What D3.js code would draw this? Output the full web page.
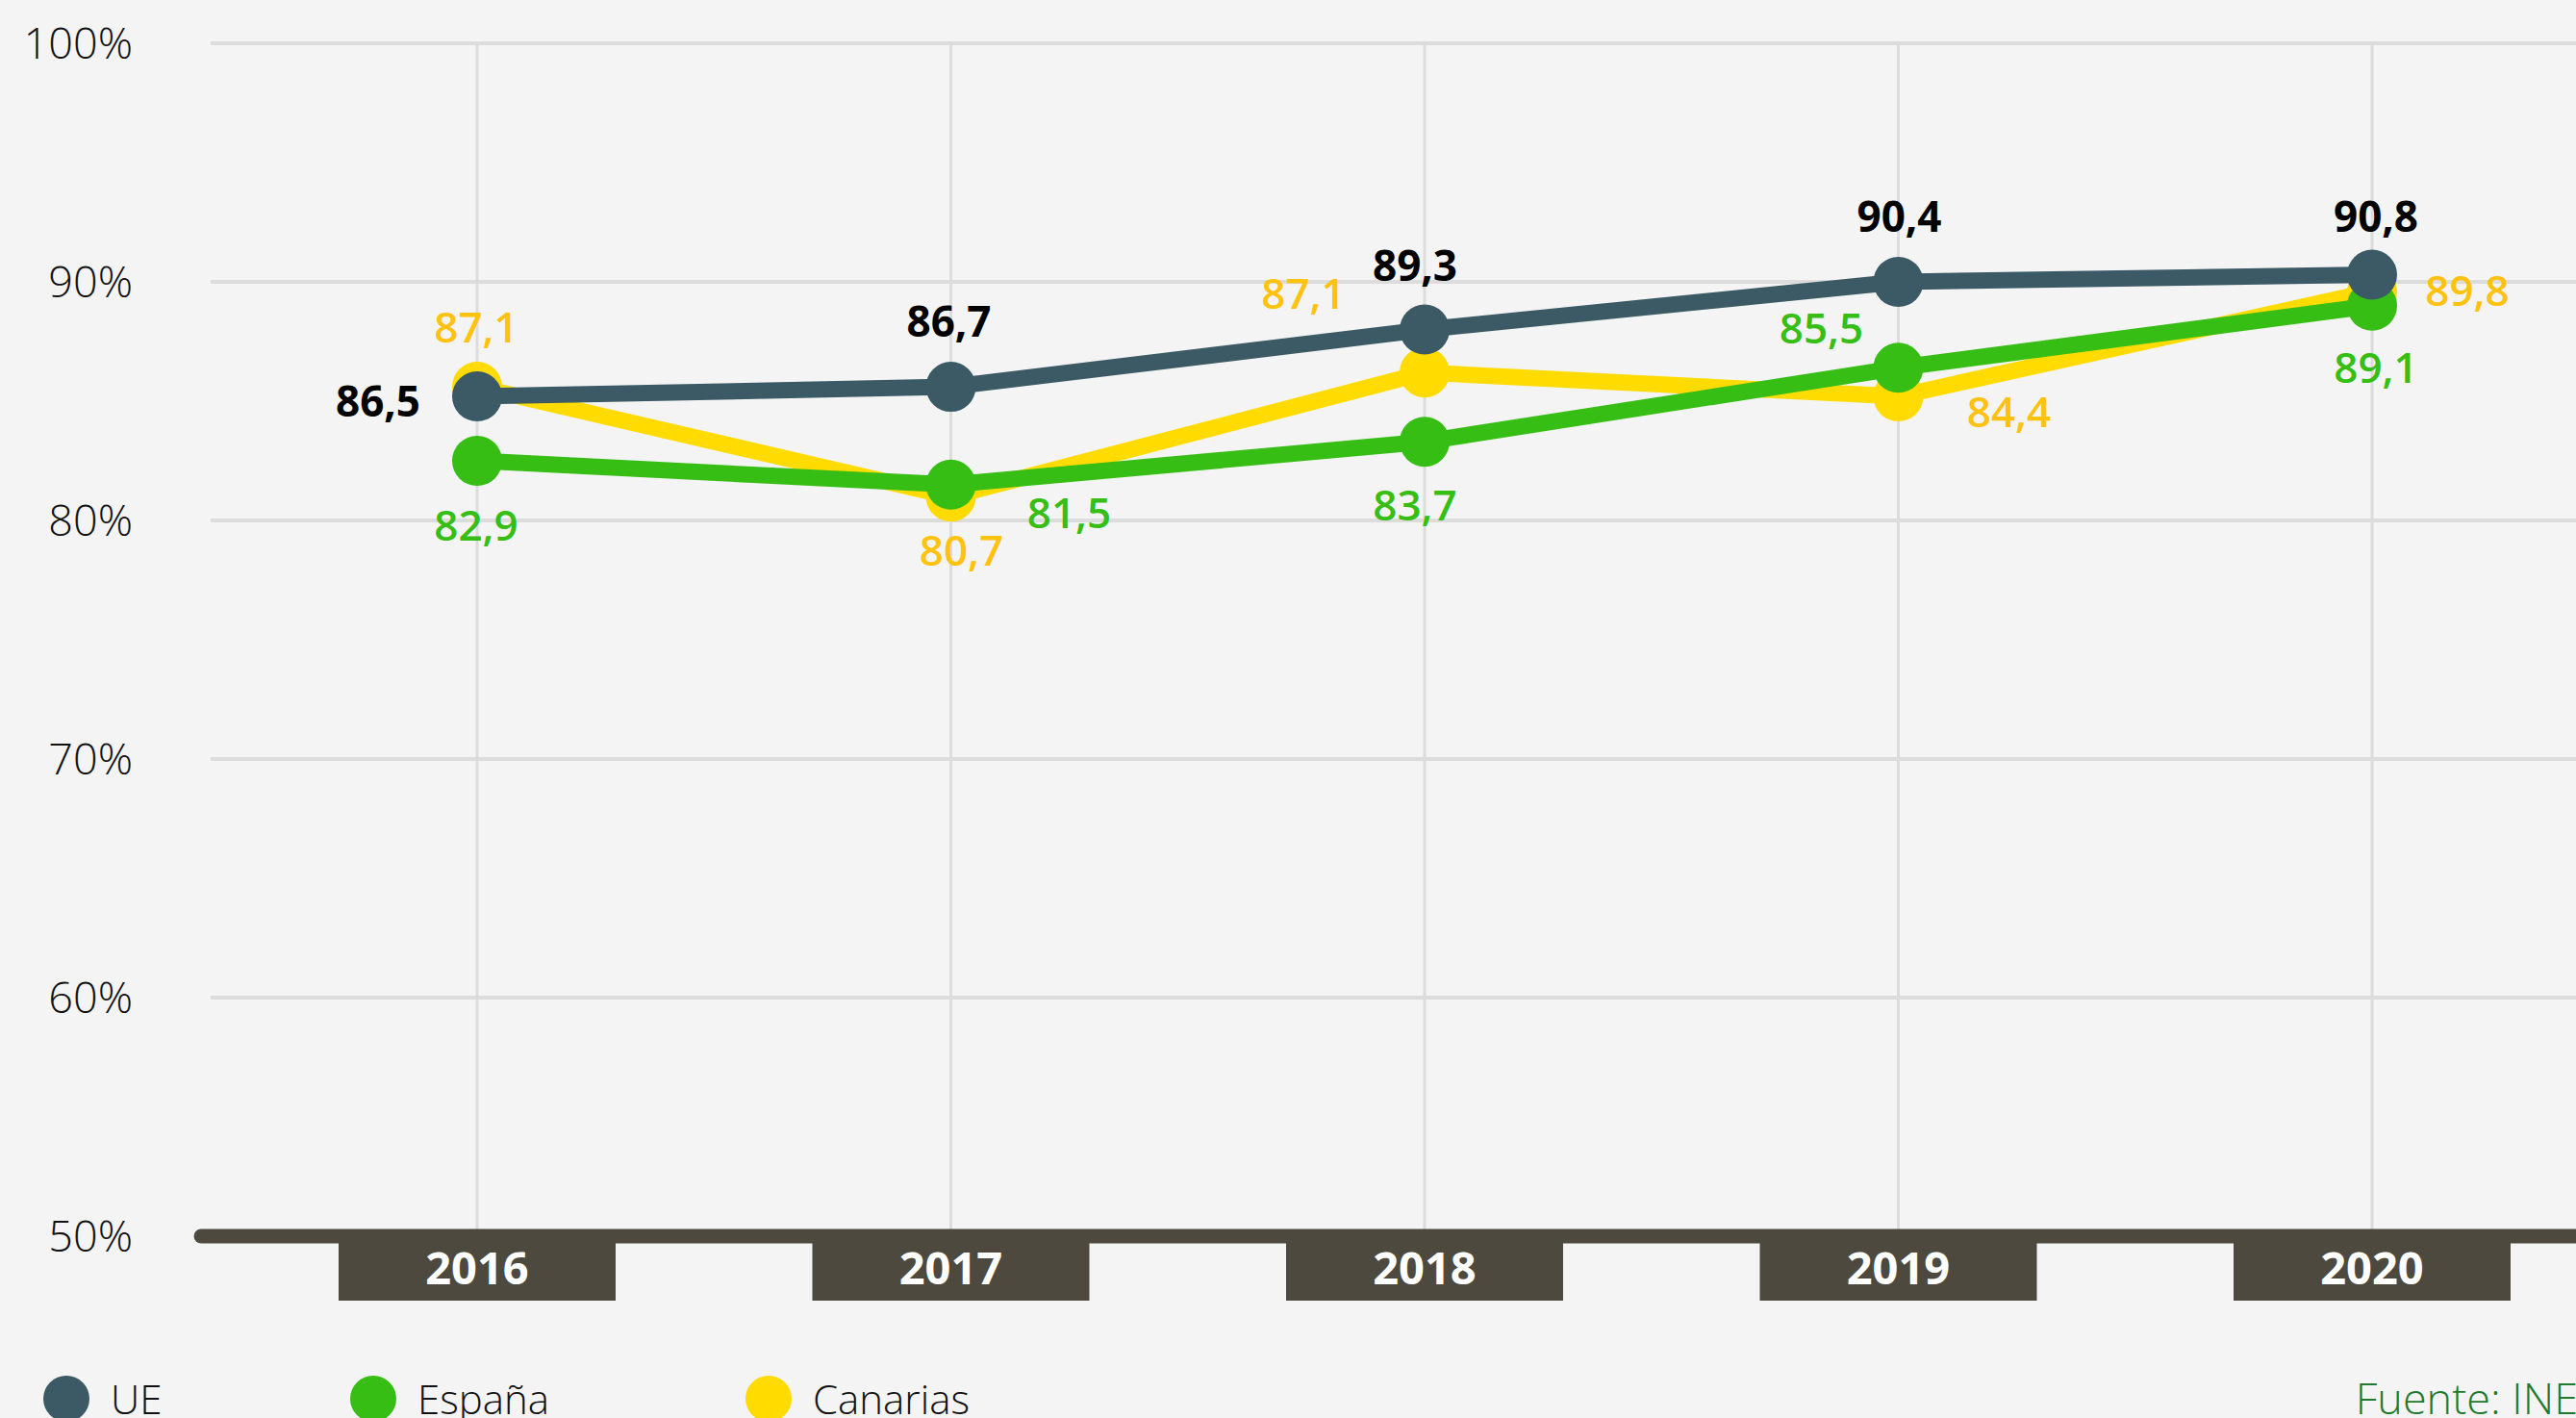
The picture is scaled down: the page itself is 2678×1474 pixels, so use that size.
<!DOCTYPE html>
<html>
<head>
<meta charset="utf-8">
<script src="https://cdn.jsdelivr.net/npm/d3@7"></script>
<style>
  html, body { margin: 0; padding: 0; background: #f4f4f4; }
  svg { display: block; font-family: "Open Sans", sans-serif; }
</style>
</head>
<body>
<svg id="chart" width="2678" height="1474"></svg>
<script>
// data
var years = ["2016", "2017", "2018", "2019", "2020"];
var yTicks = [50, 60, 70, 80, 90, 100];
// plotted positions, as drawn in the original
var ueValues = [85.2, 85.6, 88.0, 90.0, 90.3];
var espanaValues = [82.5, 81.5, 83.3, 86.4, 89.0];
var canariasValues = [85.6, 81.0, 86.2, 85.2, 89.6];
// printed labels
var ueLabels = ["86,5", "86,7", "89,3", "90,4", "90,8"];
var espanaLabels = ["82,9", "81,5", "83,7", "85,5", "89,1"];
var canariasLabels = ["87,1", "80,7", "87,1", "84,4", "89,8"];
var seriesNames = ["UE", "España", "Canarias"];

// label placement (dx from point, dy of baseline from point)
var ueOffsets = [[-103, 21], [-2, -52], [-10, -51], [1, -52], [4, -45]];
var espanaOffsets = [[-1, 83], [123, 45], [-10, 82], [-80, -25], [4, 80]];
var canariasOffsets = [[-1, -46], [11, 72], [-126, -66], [115, 32], [99, 15]];

var svg = d3.select("#chart"),
    width = +svg.attr("width"),
    height = +svg.attr("height");

var gridLeft = 219, axisY = 1285;

var x = d3.scalePoint().domain(years).range([496, 2466]);
var y = d3.scaleLinear().domain([50, 100]).range([axisY, 45]);

svg.append("rect").attr("width", width).attr("height", height).attr("fill", "#f4f4f4");

// horizontal grid
svg.append("g").selectAll("line")
  .data(yTicks.filter(function (d) { return d > 50; }))
  .enter().append("line")
  .attr("x1", gridLeft).attr("x2", width)
  .attr("y1", function (d) { return y(d); })
  .attr("y2", function (d) { return y(d); })
  .attr("stroke", "#dcdcdc").attr("stroke-width", 4);

// vertical grid
svg.append("g").selectAll("line")
  .data(years)
  .enter().append("line")
  .attr("x1", function (d) { return x(d); })
  .attr("x2", function (d) { return x(d); })
  .attr("y1", y(100)).attr("y2", axisY)
  .attr("stroke", "#dcdcdc").attr("stroke-width", 3);

// y tick labels
svg.append("g").selectAll("text")
  .data(yTicks)
  .enter().append("text")
  .attr("x", 138)
  .attr("y", function (d) { return y(d); })
  .attr("dy", "0.36em")
  .attr("text-anchor", "end")
  .attr("font-size", 45)
  .attr("font-weight", 300)
  .attr("fill", "#111")
  .text(function (d) { return d + "%"; });

// x axis bar + year boxes
svg.append("line")
  .attr("x1", 209).attr("x2", width + 20)
  .attr("y1", axisY).attr("y2", axisY)
  .attr("stroke", "#4d493e").attr("stroke-width", 15)
  .attr("stroke-linecap", "round");

var yearBox = svg.append("g").selectAll("g")
  .data(years)
  .enter().append("g")
  .attr("transform", function (d) { return "translate(" + x(d) + "," + axisY + ")"; });

yearBox.append("rect")
  .attr("x", -144).attr("y", 0)
  .attr("width", 288).attr("height", 67)
  .attr("fill", "#4d493e");

yearBox.append("text")
  .attr("y", 50)
  .attr("text-anchor", "middle")
  .attr("font-size", 47)
  .attr("font-weight", 700)
  .attr("fill", "#fff")
  .text(function (d) { return d; });

// series
var series = [
  { name: "Canarias", values: canariasValues, labels: canariasLabels, offsets: canariasOffsets, color: "#ffdb00", labelColor: "#ffc20e", weight: 600 },
  { name: "España", values: espanaValues, labels: espanaLabels, offsets: espanaOffsets, color: "#37be15", labelColor: "#37be15", weight: 600 },
  { name: "UE", values: ueValues, labels: ueLabels, offsets: ueOffsets, color: "#3b5a66", labelColor: "#000", weight: 700 }
];

var line = d3.line()
  .x(function (d, i) { return x(years[i]); })
  .y(function (d) { return y(d); });

series.forEach(function (s) {
  var g = svg.append("g").attr("class", "series");
  g.append("path")
    .datum(s.values)
    .attr("d", line)
    .attr("fill", "none")
    .attr("stroke", s.color)
    .attr("stroke-width", 17)
    .attr("stroke-linejoin", "round");
  g.selectAll("circle")
    .data(s.values)
    .enter().append("circle")
    .attr("cx", function (d, i) { return x(years[i]); })
    .attr("cy", function (d) { return y(d); })
    .attr("r", 26)
    .attr("fill", s.color);
});

series.forEach(function (s) {
  svg.append("g").selectAll("text")
    .data(s.values)
    .enter().append("text")
    .attr("x", function (d, i) { return x(years[i]) + s.offsets[i][0]; })
    .attr("y", function (d, i) { return y(d) + s.offsets[i][1]; })
    .attr("text-anchor", "middle")
    .attr("font-size", 44)
    .attr("font-weight", s.weight)
    .attr("fill", s.labelColor)
    .text(function (d, i) { return s.labels[i]; });
});

// legend
var legendColors = { "UE": "#3b5a66", "España": "#37be15", "Canarias": "#ffdb00" };
var legendX = [69, 388, 799];
var legend = svg.append("g").selectAll("g")
  .data(seriesNames)
  .enter().append("g")
  .attr("transform", function (d, i) { return "translate(" + legendX[i] + ",1454)"; });

legend.append("circle")
  .attr("r", 24)
  .attr("fill", function (d) { return legendColors[d]; });

legend.append("text")
  .attr("x", 46)
  .attr("y", 16)
  .attr("font-size", 42)
  .attr("font-weight", 300)
  .attr("fill", "#111")
  .text(function (d) { return d; });

svg.append("text")
  .attr("x", width + 2)
  .attr("y", 1470)
  .attr("text-anchor", "end")
  .attr("font-size", 45)
  .attr("font-weight", 300)
  .attr("fill", "#1f7a30")
  .text("Fuente: INE");
</script>
</body>
</html>
